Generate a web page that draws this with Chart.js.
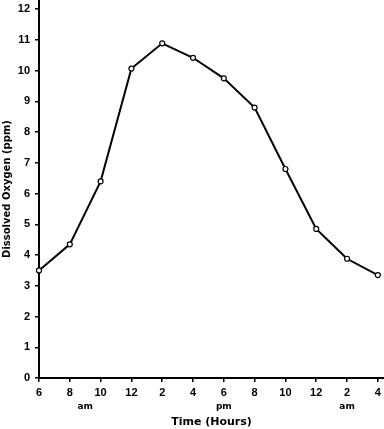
<!DOCTYPE html>
<html>
<head>
<meta charset="utf-8">
<script src="https://cdn.jsdelivr.net/npm/chart.js@4.4.1/dist/chart.umd.min.js"></script>
<style>
html,body{margin:0;padding:0;background:#fff;}
#wrap{width:384px;height:429px;position:relative;}
</style>
</head>
<body>
<div id="wrap"><canvas id="c"></canvas></div>
<script>
const hourLabels = ['6','8','10','12','2','4','6','8','10','12','2','4'];
const oxygen = [3.5, 4.35, 6.4, 10.07, 10.89, 10.42, 9.75, 8.8, 6.8, 4.85, 3.88, 3.35];
const periodLabels = ['am','pm','am'];
const periodPositions = [1.5, 6, 10];
const yTitle = 'Dissolved Oxygen (ppm)';
const xTitle = 'Time (Hours)';

const points = oxygen.map((v, i) => ({x: i, y: v}));
const FONT = "'Liberation Sans', Arial, sans-serif";
const WIDE = "'DejaVu Sans', sans-serif";

const periodPlugin = {
  id: 'periods',
  afterDraw(chart) {
    const xs = chart.scales.x;
    const ctx = chart.ctx;
    ctx.save();
    ctx.fillStyle = '#000';
    ctx.font = 'bold 9px ' + WIDE;
    ctx.textAlign = 'center';
    ctx.textBaseline = 'middle';
    periodLabels.forEach((t, i) => {
      ctx.fillText(t, xs.getPixelForValue(periodPositions[i]), xs.top + 29);
    });
    ctx.restore();
  }
};

new Chart(document.getElementById('c'), {
  type: 'line',
  data: {
    datasets: [{
      data: points,
      borderColor: '#000',
      borderWidth: 2,
      pointRadius: 2.5,
      pointBackgroundColor: '#fff',
      pointBorderColor: '#000',
      pointBorderWidth: 1.2,
      tension: 0,
      fill: false,
      clip: false
    }]
  },
  options: {
    responsive: true,
    maintainAspectRatio: false,
    animation: false,
    layout: {padding: 0, autoPadding: false},
    plugins: {legend: {display: false}, tooltip: {enabled: false}},
    scales: {
      x: {
        type: 'linear',
        min: 0, max: 11.2,
        afterFit(s) { s.height = 51; s.paddingLeft = 0; s.paddingRight = 0; },
        border: {color: '#000', width: 2},
        grid: {drawOnChartArea: false, drawTicks: true, tickLength: 4, color: '#000', lineWidth: 1.5},
        ticks: {
          stepSize: 1, includeBounds: false, autoSkip: false, maxRotation: 0,
          padding: 4, color: '#000',
          font: {family: FONT, size: 11, weight: 'bold'},
          callback: (v) => hourLabels[v] !== undefined ? hourLabels[v] : ''
        },
        title: {display: true, text: xTitle, color: '#000', padding: {top: 0, bottom: 0},
          font: {family: WIDE, size: 11, weight: 'bold'}}
      },
      y: {
        min: 0, max: 12.3,
        afterFit(s) { s.width = 39; s.paddingTop = 0; s.paddingBottom = 0; },
        border: {color: '#000', width: 2},
        grid: {drawOnChartArea: false, drawTicks: true, tickLength: 4, color: '#000', lineWidth: 1.5},
        ticks: {
          stepSize: 1, includeBounds: false, padding: 5, color: '#000',
          font: {family: FONT, size: 11, weight: 'bold'}
        },
        title: {display: true, text: yTitle, color: '#000', padding: {top: 1, bottom: 0},
          font: {family: WIDE, size: 10, weight: 'bold'}}
      }
    }
  },
  plugins: [periodPlugin]
});
</script>
</body>
</html>
